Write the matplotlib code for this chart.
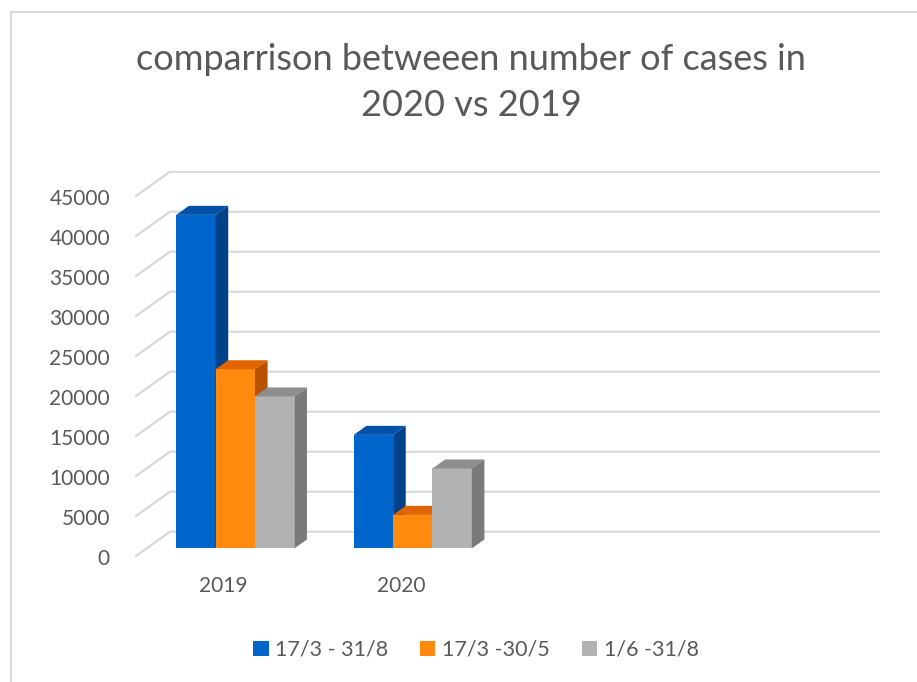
import matplotlib
matplotlib.use("Agg")
import matplotlib.pyplot as plt
from matplotlib.patches import Polygon, Rectangle

plt.rcParams["font.family"] = ["Lato", "DejaVu Sans"]

# ---- data ----
years = ["2019", "2020", "", ""]           # 4 category slots, last two empty
series = ["17/3 - 31/8", "17/3 -30/5", "1/6 -31/8"]
total_cases = [41700, 14200]
spring_cases = [22400, 4200]
summer_cases = [19000, 10000]
values = [total_cases, spring_cases, summer_cases]

# front / top / side colours for the fake 3d look
front_cols = ["#0066CC", "#FF8A0E", "#B2B2B2"]
top_cols = ["#0052A8", "#E06400", "#8E8E8E"]
side_cols = ["#00428A", "#B85200", "#7A7A7A"]

TXT = "#595959"
GRID = "#D9D9D9"

W, H = 917, 682
fig = plt.figure(figsize=(W / 100, H / 100), dpi=100)

# axes: x in category units (177.5 px each), y in value units (40 px per 5000)
px_x = 177.5
px_y = 40 / 5000
ymax = 48200
xmax = 4.2
left_px, bottom_px = 135, 556.7
ax = fig.add_axes([left_px / W, (H - bottom_px) / H,
                   xmax * px_x / W, ymax * px_y / H])
ax.set_xlim(0, xmax)
ax.set_ylim(0, ymax)
for s in ax.spines.values():
    s.set_visible(False)

# depth of the floor (front -> back wall)
DX = 35 / px_x
DY = 25 / px_y

# gridlines: diagonal on the left side wall + horizontal on the back wall
yticks = list(range(0, 45001, 5000))
for v in yticks:
    ax.plot([0, DX, len(years) + DX], [v, v + DY, v + DY],
            color=GRID, lw=1.6, solid_capstyle="butt", zorder=1)

ax.set_yticks(yticks)
ax.set_yticklabels([str(v) for v in yticks])
ax.tick_params(axis="y", length=0, pad=18, labelsize=15, labelcolor=TXT)
ax.set_xticks([0.5, 1.5])
ax.set_xticklabels(years[:2])
ax.tick_params(axis="x", length=0, pad=14, labelsize=15, labelcolor=TXT)

# bars, sitting between 1/3 and 2/3 of the floor depth
group_w = 0.665
bar_w = group_w / len(series)
f0, f1 = 0.33, 0.69
bdx = (f1 - f0) * DX
bdy = (f1 - f0) * DY
for i in range(len(series)):
    for j, v in enumerate(values[i]):
        x0 = j + 0.5 - group_w / 2 + i * bar_w + f0 * DX
        y0 = f0 * DY
        y1 = y0 + v
        z = 3 + j * 10 + i
        ax.add_patch(Rectangle((x0, y0), bar_w, v, facecolor=front_cols[i],
                               edgecolor="none", zorder=z))
        ax.add_patch(Polygon([(x0, y1), (x0 + bdx, y1 + bdy),
                              (x0 + bar_w + bdx, y1 + bdy), (x0 + bar_w, y1)],
                             closed=True, facecolor=top_cols[i],
                             edgecolor="none", zorder=z))
        ax.add_patch(Polygon([(x0 + bar_w, y0), (x0 + bar_w + bdx, y0 + bdy),
                              (x0 + bar_w + bdx, y1 + bdy), (x0 + bar_w, y1)],
                             closed=True, facecolor=side_cols[i],
                             edgecolor="none", zorder=z))

# title
fig.text(471 / W, 1 - 59 / H, "comparrison betweeen number of cases in",
         ha="center", va="center", fontsize=26, color=TXT)
fig.text(471 / W, 1 - 106 / H, "2020 vs 2019",
         ha="center", va="center", fontsize=26, color=TXT)

# legend
handles = [Rectangle((0, 0), 1, 1, facecolor=c, edgecolor="none")
           for c in front_cols]
fig.legend(handles, series, loc="center", bbox_to_anchor=(476 / W, 1 - 650 / H),
           ncol=3, frameon=False, fontsize=15.5, handlelength=0.7,
           handleheight=0.7, handletextpad=0.3, columnspacing=1.5,
           labelcolor=TXT)

# chart border
fig.add_artist(Rectangle((10.5 / W, -0.1), 2, (H - 12) / H + 0.1,
                         transform=fig.transFigure, fill=False,
                         edgecolor="#D9D9D9", lw=1.5))

fig.savefig("out.png", dpi=100, facecolor="white")
